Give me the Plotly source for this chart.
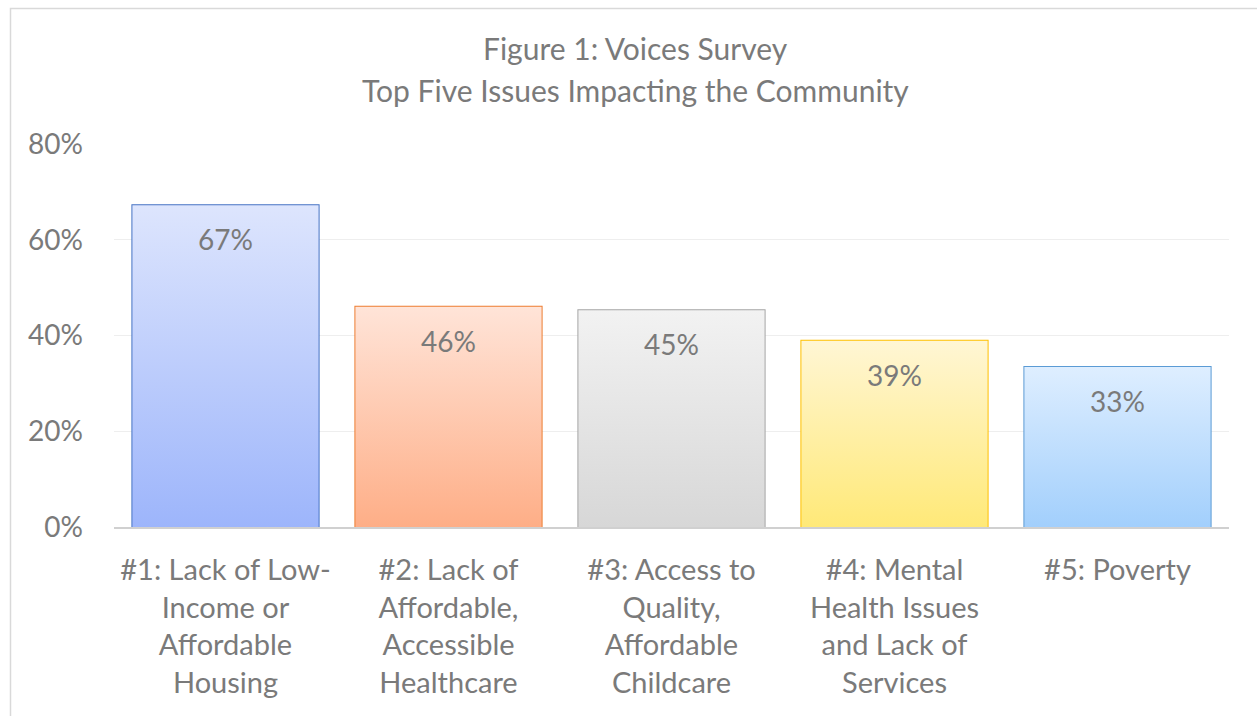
import plotly.graph_objects as go

categories = [
    "#1: Lack of Low-<br>Income or<br>Affordable<br>Housing",
    "#2: Lack of<br>Affordable,<br>Accessible<br>Healthcare",
    "#3: Access to<br>Quality,<br>Affordable<br>Childcare",
    "#4: Mental<br>Health Issues<br>and Lack of<br>Services",
    "#5: Poverty",
]
values = [67.2, 46.0, 45.3, 38.9, 33.4]
labels = ["67%", "46%", "45%", "39%", "33%"]
top_colors = ["#DDE5FD", "#FFE4D8", "#F2F2F2", "#FFF6D4", "#DEEEFF"]
bottom_colors = ["#9DB5FB", "#FEAE87", "#D7D7D7", "#FFE978", "#A2CFFC"]
border_colors = ["#4472C4", "#ED7D31", "#A5A5A5", "#FFC000", "#5B9BD5"]
y_ticks = [0, 20, 40, 60, 80]
y_tick_text = ["0%", "20%", "40%", "60%", "80%"]
title_lines = ["Figure 1: Voices Survey", "Top Five Issues Impacting the Community"]

W, H = 1257, 716
ML, MR, MT, MB = 114, 28, 144, 189
PW, PH = W - ML - MR, H - MT - MB
FONT = "Lato"
TXT = "#7A7A7A"
BAR_W = 0.835

positions = list(range(len(categories)))
fig = go.Figure()

# gradient fills
for i, v in enumerate(values):
    x0, x1 = positions[i] - BAR_W / 2, positions[i] + BAR_W / 2
    fig.add_trace(go.Scatter(
        x=[x0, x0, x1, x1, x0], y=[0, v, v, 0, 0],
        mode="lines", fill="toself", line=dict(width=0),
        fillgradient=dict(type="vertical",
                          colorscale=[[0, bottom_colors[i]], [1, top_colors[i]]]),
        hoverinfo="skip", showlegend=False,
    ))

# bars (outline)
fig.add_trace(go.Bar(
    x=positions, y=values, width=BAR_W,
    marker=dict(color="rgba(0,0,0,0)", line=dict(color=border_colors, width=2)),
    showlegend=False,
))

# data labels
for i, v in enumerate(values):
    fig.add_annotation(x=positions[i], y=v, text=labels[i], showarrow=False,
                       yanchor="top", yshift=-15,
                       font=dict(family=FONT, size=28, color=TXT))

# title lines
title_y_px = [48, 90]
for t, ypx in zip(title_lines, title_y_px):
    fig.add_annotation(xref="paper", yref="paper",
                       x=(635 - ML) / PW, y=(H - MB - ypx) / PH,
                       text=t, showarrow=False, xanchor="center", yanchor="middle",
                       font=dict(family=FONT, size=30, color=TXT))

# outer border
fig.add_shape(type="rect", xref="paper", yref="paper",
              x0=(10.5 - ML) / PW, x1=(1275 - ML) / PW,
              y0=(H - MB - 740) / PH, y1=(H - MB - 8.5) / PH,
              line=dict(color="#D9D9D9", width=1.5), fillcolor="rgba(0,0,0,0)",
              layer="below")

fig.update_layout(
    width=W, height=H,
    margin=dict(l=ML, r=MR, t=MT, b=MB, pad=0),
    paper_bgcolor="white", plot_bgcolor="white",
    font=dict(family=FONT, size=28, color=TXT),
    xaxis=dict(range=[-0.5, 4.5], tickvals=positions, ticktext=categories,
               showgrid=False, zeroline=False, showline=True,
               linecolor="#D0D0D0", linewidth=2, ticks="",
               ticklabelstandoff=16, tickfont=dict(family=FONT, size=29, color=TXT)),
    yaxis=dict(range=[0, 80], tickvals=y_ticks, ticktext=y_tick_text,
               showgrid=True, gridcolor="#EEEEEE", gridwidth=1, zeroline=False,
               showline=False, ticks="", ticklabelstandoff=30,
               tickfont=dict(family=FONT, size=28, color=TXT)),
)

fig.write_html("out.html")
